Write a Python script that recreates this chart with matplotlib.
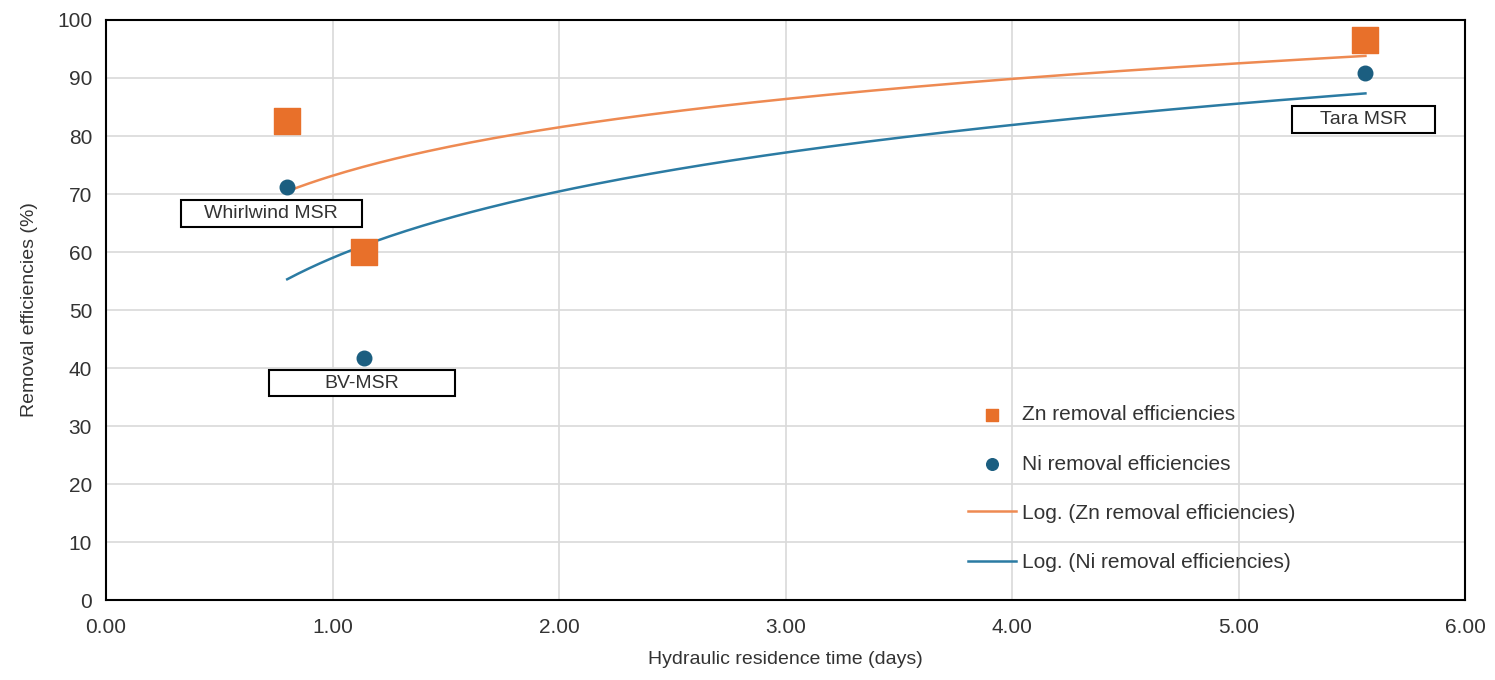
import numpy as np
import matplotlib.pyplot as plt
from matplotlib.patches import Rectangle

plt.rcParams['font.family'] = ['Liberation Sans', 'DejaVu Sans']

# Hydraulic residence time (days) and removal efficiencies (%)
hrt = [0.80, 1.14, 5.56]
zn_removal = [82.5, 60.0, 96.5]
ni_removal = [71.2, 41.7, 90.9]
site_names = ['Whirlwind MSR', 'BV-MSR', 'Tara MSR']
label_pos = [(0.73, 66.6), (1.13, 37.4), (5.55, 82.9)]
label_width = [0.80, 0.82, 0.63]

ZN_COLOR = '#E8702A'
NI_COLOR = '#1B5E80'
ZN_LINE = '#EE8A52'
NI_LINE = '#2B7BA3'


def log_fit(x, y):
    """Excel-style logarithmic trendline y = a*ln(x) + b."""
    a, b = np.polyfit(np.log(x), y, 1)
    xs = np.linspace(min(x), max(x), 200)
    return xs, a * np.log(xs) + b


fig = plt.figure(figsize=(14.95, 6.8), dpi=100)
ax = fig.add_axes([0.0709, 0.1176, 0.9091, 0.853])

zn_x, zn_y = log_fit(hrt, zn_removal)
ni_x, ni_y = log_fit(hrt, ni_removal)

ax.scatter(hrt, zn_removal, marker='s', s=330, color=ZN_COLOR, zorder=4,
           label='Zn removal efficiencies')
ax.scatter(hrt, ni_removal, marker='o', s=110, color=NI_COLOR, zorder=4,
           label='Ni removal efficiencies')
ax.plot(zn_x, zn_y, color=ZN_LINE, lw=1.8, zorder=3, label='Log. (Zn removal efficiencies)')
ax.plot(ni_x, ni_y, color=NI_LINE, lw=1.8, zorder=3, label='Log. (Ni removal efficiencies)')

# site labels in boxes
box_h = 4.6
for name, (cx, cy), bw in zip(site_names, label_pos, label_width):
    ax.add_patch(Rectangle((cx - bw / 2, cy - box_h / 2), bw, box_h,
                           facecolor='white', edgecolor='black', lw=1.5, zorder=5))
    ax.text(cx, cy, name, ha='center', va='center', fontsize=14, color='#333333', zorder=6)

ax.set_xlim(0, 6)
ax.set_ylim(0, 100)
ax.set_xticks(np.arange(0, 6.01, 1))
ax.set_xticklabels([f'{v:.2f}' for v in np.arange(0, 6.01, 1)])
ax.set_yticks(np.arange(0, 101, 10))
ax.grid(True, color='#D9D9D9', lw=1.2)
ax.set_axisbelow(True)
ax.tick_params(length=0, labelsize=15, labelcolor='#333333')
ax.tick_params(axis='x', pad=13)
ax.tick_params(axis='y', pad=10)
for sp in ax.spines.values():
    sp.set_color('black')
    sp.set_linewidth(1.5)

ax.set_xlabel('Hydraulic residence time (days)', fontsize=14, color='#333333', labelpad=10)
ax.set_ylabel('Removal efficiencies (%)', fontsize=14, color='#333333', labelpad=14)

leg = ax.legend(loc='upper left', bbox_to_anchor=(0.628, 0.35), frameon=False,
                fontsize=15, labelspacing=1.45, handlelength=2.3, handletextpad=0.3,
                borderaxespad=0)
for t in leg.get_texts():
    t.set_color('#333333')
leg.legend_handles[0].set_sizes([70])
leg.legend_handles[1].set_sizes([70])

fig.savefig('out.png', dpi=100)
